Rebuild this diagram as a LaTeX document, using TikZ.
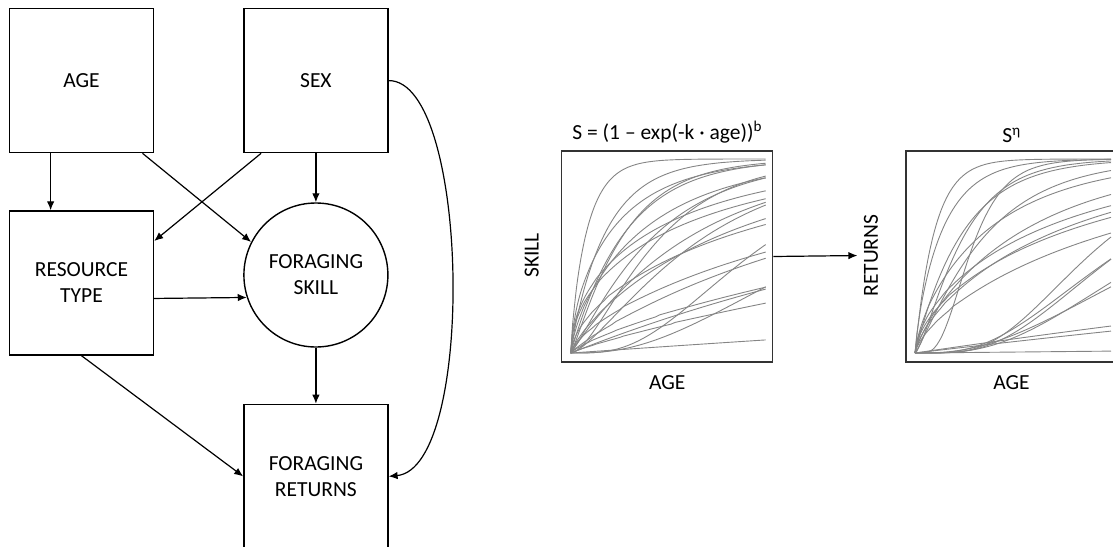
\documentclass[tikz,border=0pt]{standalone}
\usepackage{fontspec}
\setmainfont{Carlito}
\usepackage{tikz}
\usetikzlibrary{shapes,shapes.geometric,arrows.meta,positioning}

\tikzset{
box/.style={draw, line width=1.4pt, minimum width=144pt, minimum height=144pt, align=center, inner sep=0pt},
bubble/.style={draw, circle, line width=1.4pt, minimum size=144pt, align=center, inner sep=0pt},
plotbox/.style={draw=black!80, line width=1.2pt, minimum width=211pt, minimum height=211pt, inner sep=0pt},
curve/.style={black!48, line width=0.9pt},
link/.style={->, line width=1.2pt}
}

\begin{document}
\begin{tikzpicture}[%
>={Latex[length=9pt,width=7.5pt]},
x=1pt, y=-1pt,
font=\fontsize{21.5}{26}\selectfont
]
\useasboundingbox (0,0) rectangle (1113,546);
\clip (0,0) rectangle (1113,546);

\node[box] (age) at (81.5,80.6) {AGE};
\node[box] (sex) [right=89pt of age] {SEX};
\node[box] (resource) [below=57pt of age] {RESOURCE\\TYPE};
\node[bubble] (skill) [below=49pt of sex] {FORAGING\\SKILL};
\node[box] (returns) [below=56pt of skill] {FORAGING\\RETURNS};

% causal links
\draw[link] (age.-113) -- (age.-113 |- resource.north);
\draw[link] (age.-50) -- (skill.153);
\draw[link] (sex.-127) -- (resource.30);
\draw[link] (sex.south) -- (skill.north);
\draw[link] (resource.-12) -- (skill.198);
\draw[link] (resource.south) -- (returns.west);
\draw[link] (skill.south) -- (returns.north);
\draw[link] (sex.east) .. controls (470,80) and (476,468) .. (returns.east);

% skill curve
\node[plotbox] (skillplot) at (667.2,256.5) {};
\node (skilltitle) [above=4pt of skillplot] {S = (1 – exp(-k · age))\textsuperscript{b}};
\node[rotate=90] (skilllabel) at (531.7,255.5) {SKILL};
\node (skillage) [below=9pt of skillplot] {AGE};
\begin{scope}[shift={(570.7,353)}, x=195pt, y=194pt]
\foreach \k/\b in {10/0.8, 5/0.9, 4/1.2, 3.5/1, 3/0.6, 3/1.8, 2.5/1.2, 2/0.7, 1.8/1.5, 1.5/1, 1.2/0.5, 1/0.5, 1/0.8, 2/4, 0.7/0.6, 0.6/0.9, 0.5/0.7, 0.4/1, 0.3/0.8, 1.2/3, 0.25/0.9, 0.07/1}
  \draw[curve] (0,0) -- plot[domain=0.01:1, samples=50, smooth] (\x, {max(1-exp(-\k*\x),0.0001)^\b});
\end{scope}

% returns curve
\node[plotbox] (returnsplot) at (1011.5,256.5) {};
\node (returnstitle) [above=4pt of returnsplot] {S\textsuperscript{η}};
\node[rotate=90] (returnslabel) at (871,255.5) {RETURNS};
\node (returnsage) [below=9pt of returnsplot] {AGE};
\begin{scope}[shift={(915,353)}, x=196pt, y=194pt]
\foreach \k/\c in {10/1, 6/0.8, 5/1.5, 4/1, 3/1.2, 8/6, 2/0.7, 1.5/0.8, 1/0.6, 1/0.7, 0.8/0.6, 0.7/0.7, 2.5/6, 2/5, 1.5/4, 1.2/3, 1.8/4, 0.15/1, 0.12/1, 0.01/1}
  \draw[curve] (0,0) -- plot[domain=0.01:1, samples=50, smooth] (\x, {max(1-exp(-\k*\x),0.0001)^\c});
\end{scope}

\draw[link, shorten >=3pt] (skillplot.east) -- (returnslabel.north);
\end{tikzpicture}
\end{document}
